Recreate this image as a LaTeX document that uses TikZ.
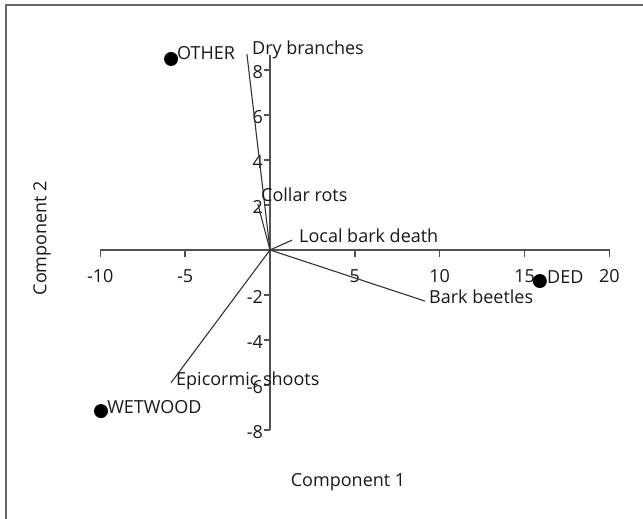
\documentclass[tikz,border=0pt]{standalone}
\usepackage{fontspec}
\setmainfont{Open Sans}
\begin{document}
\begin{tikzpicture}[x=16.97pt,y=22.5pt,
  lbl/.style={font=\fontsize{18}{21}\selectfont, text=black!90, inner sep=0pt},
  axisline/.style={draw=black!68, line width=1.5pt},
  vec/.style={draw=black!80, line width=1.1pt},
  dot/.style={circle, fill=black, inner sep=0pt, minimum size=14pt}]
\useasboundingbox (-15.911,11.111) rectangle (21.980,-11.956);
% frame (top and left)
\draw[draw=black!60, line width=1.5pt] (21.980,10.889) -- (-15.557,10.889) -- (-15.557,-11.956);
% axes
\draw[axisline] (-10,-0.311) -- (-10,0) -- (20,0) -- (20,-0.311);
\foreach \t in {-5,5,10,15} \draw[axisline] (\t,0) -- (\t,-0.311);
\draw[axisline] (0,-8) -- (0,8.67);
\foreach \t in {-8,-6,-4,-2,2,4,6,8} \draw[axisline] (0,\t) -- (-0.35,\t);
\foreach \t in {-10,-5,5,10,15,20} \node[lbl, anchor=base] (xt\t) at (\t,-1.444) {\t};
\foreach \t in {-8,-6,-4,-2,2,4,6,8} \node[lbl, anchor=east] (yt\t) at (-0.40,\t-0.08) {\t};
% axis titles
\node[lbl] (xtitle) at (4.6,-10.31) {Component 1};
\node[lbl, rotate=90] (ytitle) at (-13.44,0.53) {Component 2};
% vectors
\coordinate (O) at (0,0);
\coordinate (vdry) at (-1.36,8.7);
\coordinate (vcol) at (-0.72,2.05);
\coordinate (vloc) at (1.3,0.44);
\coordinate (vbar) at (9.13,-2.27);
\coordinate (vepi) at (-5.83,-5.9);
\foreach \v in {vdry,vcol,vloc,vbar,vepi} \draw[vec] (O) -- (\v);
\node[lbl, anchor=base west] (ldry) at (-1.06,8.69) {Dry branches};
\node[lbl, anchor=base west] (lcol) at (-0.53,2.16) {Collar rots};
\node[lbl, anchor=base west] (lloc) at (1.71,0.33) {Local bark death};
\node[lbl, anchor=base west] (lbar) at (9.37,-2.38) {Bark beetles};
\node[lbl, anchor=base west] (lepi) at (-5.54,-6.02) {Epicormic shoots};
% sites
\node[dot] (pother) at (-5.83,8.49) {};
\node[dot] (pwet) at (-9.96,-7.16) {};
\node[dot] (pded) at (15.9,-1.38) {};
\node[lbl, anchor=base west] (lother) at (-5.48,8.47) {OTHER};
\node[lbl, anchor=base west] (lwet) at (-9.6,-7.27) {WETWOOD};
\node[lbl, anchor=base west] (lded) at (16.32,-1.49) {DED};
\end{tikzpicture}
\end{document}
